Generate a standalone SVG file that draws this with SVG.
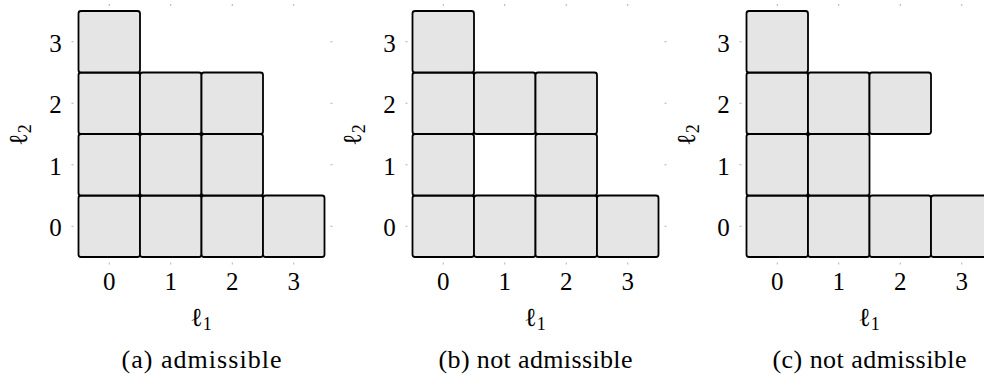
<svg xmlns="http://www.w3.org/2000/svg" width="984" height="378" viewBox="0 0 984 378" font-family="Liberation Serif">
<g id="panel-a">
<g fill="#e5e5e5" stroke="#000" stroke-width="1.8">
<g id="a-0-0"><rect x="78.5" y="195.5" width="61.5" height="61.5" rx="2.5"/></g>
<g id="a-1-0"><rect x="140" y="195.5" width="61.5" height="61.5" rx="2.5"/></g>
<g id="a-2-0"><rect x="201.5" y="195.5" width="61.5" height="61.5" rx="2.5"/></g>
<g id="a-3-0"><rect x="263" y="195.5" width="61.5" height="61.5" rx="2.5"/></g>
<g id="a-0-1"><rect x="78.5" y="134" width="61.5" height="61.5" rx="2.5"/></g>
<g id="a-1-1"><rect x="140" y="134" width="61.5" height="61.5" rx="2.5"/></g>
<g id="a-2-1"><rect x="201.5" y="134" width="61.5" height="61.5" rx="2.5"/></g>
<g id="a-0-2"><rect x="78.5" y="72.5" width="61.5" height="61.5" rx="2.5"/></g>
<g id="a-1-2"><rect x="140" y="72.5" width="61.5" height="61.5" rx="2.5"/></g>
<g id="a-2-2"><rect x="201.5" y="72.5" width="61.5" height="61.5" rx="2.5"/></g>
<g id="a-0-3"><rect x="78.5" y="11" width="61.5" height="61.5" rx="2.5"/></g>
</g>
<path stroke="#b0b0b0" stroke-width="1" fill="none" d="M109.25,4V6M170.75,4V6M232.25,4V6M293.75,4V6M109.25,262.5V264.5M170.75,262.5V264.5M232.25,262.5V264.5M293.75,262.5V264.5M71.5,41.75H73.5M71.5,103.25H73.5M71.5,164.75H73.5M71.5,226.25H73.5M330.5,41.75H332.5M330.5,103.25H332.5M330.5,164.75H332.5M330.5,226.25H332.5"/>
<g font-family="Liberation Serif" font-size="25" text-anchor="middle">
<text x="55.5" y="51.5">3</text>
<text x="55.5" y="113">2</text>
<text x="55.5" y="174.5">1</text>
<text x="55.5" y="236">0</text>
<text x="109.25" y="289.5">0</text>
<text x="170.75" y="289.5">1</text>
<text x="232.25" y="289.5">2</text>
<text x="293.75" y="289.5">3</text>
</g>
<text x="201" y="326" font-family="Liberation Serif" font-size="26" text-anchor="middle">ℓ<tspan font-size="18" dy="4">1</tspan></text>
<text x="0" y="0" transform="translate(27,135) rotate(-90)" font-family="Liberation Serif" font-size="26" text-anchor="middle">ℓ<tspan font-size="18" dy="4">2</tspan></text>
<text x="201.5" y="368" font-family="Liberation Serif" font-size="26" text-anchor="middle" textLength="160" lengthAdjust="spacing">(a) admissible</text>
</g>
<g id="panel-b" transform="translate(334,0)">
<g fill="#e5e5e5" stroke="#000" stroke-width="1.8">
<g id="b-0-0"><rect x="78.5" y="195.5" width="61.5" height="61.5" rx="2.5"/></g>
<g id="b-1-0"><rect x="140" y="195.5" width="61.5" height="61.5" rx="2.5"/></g>
<g id="b-2-0"><rect x="201.5" y="195.5" width="61.5" height="61.5" rx="2.5"/></g>
<g id="b-3-0"><rect x="263" y="195.5" width="61.5" height="61.5" rx="2.5"/></g>
<g id="b-0-1"><rect x="78.5" y="134" width="61.5" height="61.5" rx="2.5"/></g>
<g id="b-2-1"><rect x="201.5" y="134" width="61.5" height="61.5" rx="2.5"/></g>
<g id="b-0-2"><rect x="78.5" y="72.5" width="61.5" height="61.5" rx="2.5"/></g>
<g id="b-1-2"><rect x="140" y="72.5" width="61.5" height="61.5" rx="2.5"/></g>
<g id="b-2-2"><rect x="201.5" y="72.5" width="61.5" height="61.5" rx="2.5"/></g>
<g id="b-0-3"><rect x="78.5" y="11" width="61.5" height="61.5" rx="2.5"/></g>
</g>
<path stroke="#b0b0b0" stroke-width="1" fill="none" d="M109.25,4V6M170.75,4V6M232.25,4V6M293.75,4V6M109.25,262.5V264.5M170.75,262.5V264.5M232.25,262.5V264.5M293.75,262.5V264.5M71.5,41.75H73.5M71.5,103.25H73.5M71.5,164.75H73.5M71.5,226.25H73.5M330.5,41.75H332.5M330.5,103.25H332.5M330.5,164.75H332.5M330.5,226.25H332.5"/>
<g font-family="Liberation Serif" font-size="25" text-anchor="middle">
<text x="55.5" y="51.5">3</text>
<text x="55.5" y="113">2</text>
<text x="55.5" y="174.5">1</text>
<text x="55.5" y="236">0</text>
<text x="109.25" y="289.5">0</text>
<text x="170.75" y="289.5">1</text>
<text x="232.25" y="289.5">2</text>
<text x="293.75" y="289.5">3</text>
</g>
<text x="201" y="326" font-family="Liberation Serif" font-size="26" text-anchor="middle">ℓ<tspan font-size="18" dy="4">1</tspan></text>
<text x="0" y="0" transform="translate(27,135) rotate(-90)" font-family="Liberation Serif" font-size="26" text-anchor="middle">ℓ<tspan font-size="18" dy="4">2</tspan></text>
<text x="201.5" y="368" font-family="Liberation Serif" font-size="26" text-anchor="middle" textLength="194" lengthAdjust="spacing">(b) not admissible</text>
</g>
<g id="panel-c" transform="translate(668,0)">
<g fill="#e5e5e5" stroke="#000" stroke-width="1.8">
<g id="c-0-0"><rect x="78.5" y="195.5" width="61.5" height="61.5" rx="2.5"/></g>
<g id="c-1-0"><rect x="140" y="195.5" width="61.5" height="61.5" rx="2.5"/></g>
<g id="c-2-0"><rect x="201.5" y="195.5" width="61.5" height="61.5" rx="2.5"/></g>
<g id="c-3-0"><rect x="263" y="195.5" width="61.5" height="61.5" rx="2.5"/></g>
<g id="c-0-1"><rect x="78.5" y="134" width="61.5" height="61.5" rx="2.5"/></g>
<g id="c-1-1"><rect x="140" y="134" width="61.5" height="61.5" rx="2.5"/></g>
<g id="c-0-2"><rect x="78.5" y="72.5" width="61.5" height="61.5" rx="2.5"/></g>
<g id="c-1-2"><rect x="140" y="72.5" width="61.5" height="61.5" rx="2.5"/></g>
<g id="c-2-2"><rect x="201.5" y="72.5" width="61.5" height="61.5" rx="2.5"/></g>
<g id="c-0-3"><rect x="78.5" y="11" width="61.5" height="61.5" rx="2.5"/></g>
</g>
<path stroke="#b0b0b0" stroke-width="1" fill="none" d="M109.25,4V6M170.75,4V6M232.25,4V6M293.75,4V6M109.25,262.5V264.5M170.75,262.5V264.5M232.25,262.5V264.5M293.75,262.5V264.5M71.5,41.75H73.5M71.5,103.25H73.5M71.5,164.75H73.5M71.5,226.25H73.5"/>
<g font-family="Liberation Serif" font-size="25" text-anchor="middle">
<text x="55.5" y="51.5">3</text>
<text x="55.5" y="113">2</text>
<text x="55.5" y="174.5">1</text>
<text x="55.5" y="236">0</text>
<text x="109.25" y="289.5">0</text>
<text x="170.75" y="289.5">1</text>
<text x="232.25" y="289.5">2</text>
<text x="293.75" y="289.5">3</text>
</g>
<text x="201" y="326" font-family="Liberation Serif" font-size="26" text-anchor="middle">ℓ<tspan font-size="18" dy="4">1</tspan></text>
<text x="0" y="0" transform="translate(27,135) rotate(-90)" font-family="Liberation Serif" font-size="26" text-anchor="middle">ℓ<tspan font-size="18" dy="4">2</tspan></text>
<text x="201.5" y="368" font-family="Liberation Serif" font-size="26" text-anchor="middle" textLength="194" lengthAdjust="spacing">(c) not admissible</text>
</g>
<g id="connectors"/>
</svg>
